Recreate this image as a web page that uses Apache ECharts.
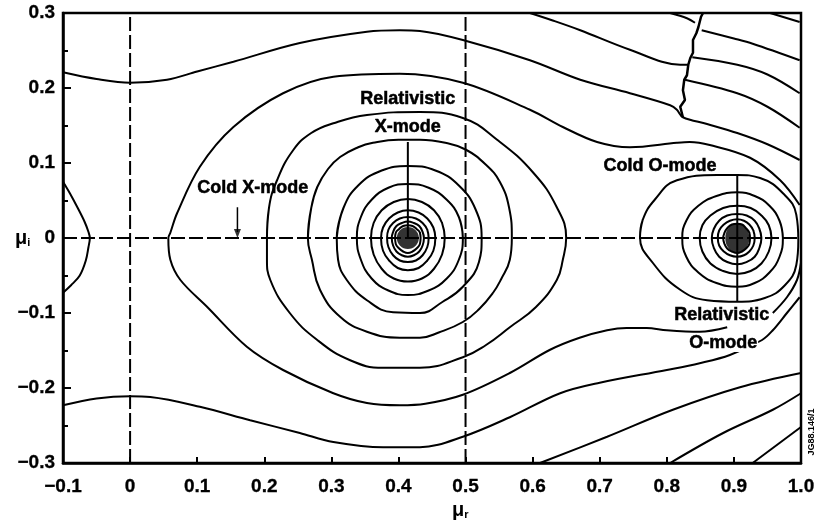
<!DOCTYPE html>
<html>
<head>
<meta charset="utf-8">
<script src="https://cdn.jsdelivr.net/npm/echarts@6/dist/echarts.min.js"></script>
<style>html,body{margin:0;padding:0;background:#fff}#c{width:821px;height:529px}</style>
</head>
<body>
<div id="c"></div>
<script>
// ---- tick labels ----
const xTickLabels = ['\u22120.1','0','0.1','0.2','0.3','0.4','0.5','0.6','0.7','0.8','0.9','1.0'];
const yTickLabels = ['\u22120.3','\u22120.2','\u22120.1','0','0.1','0.2','0.3'];

// ---- dashed reference lines ----
const refX = [0, 0.5];
const refY = [0];

// ---- closed contours around the relativistic X-mode (mu_r ~ 0.414) ----
const xRings = [
  [[.433,0],[.432,.007],[.427,.012],[.421,.016],[.414,.017],[.407,.016],[.401,.012],[.396,.007],[.395,0],[.396,-.008],[.401,-.014],[.407,-.018],[.414,-.020],[.421,-.018],[.427,-.014],[.432,-.008],[.433,0],[.432,.007]],
  [[.438,0],[.436,.008],[.431,.016],[.423,.020],[.414,.022],[.405,.020],[.397,.016],[.392,.008],[.390,0],[.392,-.010],[.397,-.018],[.405,-.023],[.414,-.025],[.423,-.023],[.431,-.018],[.436,-.010],[.438,0],[.436,.008]],
  [[.445,0],[.443,.011],[.436,.020],[.426,.026],[.414,.028],[.402,.026],[.392,.020],[.385,.011],[.383,0],[.385,-.012],[.392,-.023],[.402,-.030],[.414,-.032],[.426,-.030],[.436,-.023],[.443,-.012],[.445,0],[.443,.011]],
  [[.455,0],[.452,.014],[.443,.026],[.430,.034],[.414,.037],[.399,.034],[.386,.026],[.377,.014],[.374,0],[.377,-.017],[.386,-.030],[.399,-.040],[.414,-.043],[.430,-.040],[.443,-.030],[.452,-.017],[.455,0],[.452,.014]],
  [[.469,0],[.465,.020],[.453,.037],[.435,.048],[.414,.052],[.393,.048],[.375,.037],[.363,.020],[.359,0],[.363,-.022],[.375,-.041],[.393,-.054],[.414,-.058],[.435,-.054],[.453,-.041],[.465,-.022],[.469,0],[.465,.020]],
  [[.496,0],[.490,.028],[.472,.051],[.445,.067],[.414,.072],[.385,.067],[.360,.051],[.344,.028],[.338,0],[.344,-.029],[.360,-.054],[.385,-.070],[.414,-.076],[.445,-.070],[.472,-.054],[.490,-.029],[.496,0],[.490,.028]],
  [[.308,0],[.318,.040],[.340,.070],[.375,.090],[.414,.096],[.455,.090],[.490,.070],[.515,.038],[.524,0],[.520,-.032],[.496,-.065],[.466,-.085],[.432,-.100],[.392,-.099],[.353,-.083],[.323,-.056],[.310,-.029],[.308,0],[.318,.040]],
  [[.265,0],[.270,.040],[.279,.068],[.295,.092],[.313,.108],[.340,.121],[.362,.127],[.400,.131],[.432,.131],[.470,.127],[.500,.118],[.530,.098],[.551,.075],[.565,.040],[.569,0],[.566,-.029],[.553,-.055],[.541,-.073],[.520,-.095],[.496,-.112],[.460,-.126],[.432,-.133],[.402,-.133],[.353,-.125],[.313,-.105],[.283,-.069],[.271,-.029],[.265,0],[.270,.040]],
  [[.204,0],[.207,.040],[.219,.077],[.243,.117],[.270,.140],[.303,.153],[.353,.164],[.432,.168],[.496,.160],[.547,.131],[.601,.087],[.636,.041],[.650,0],[.645,-.029],[.636,-.056],[.605,-.092],[.566,-.119],[.530,-.143],[.496,-.159],[.432,-.173],[.377,-.173],[.328,-.163],[.279,-.136],[.238,-.100],[.209,-.056],[.204,-.029],[.204,0],[.207,.040]]
];

// ---- closed contours around the relativistic O-mode (mu_r ~ 0.905) ----
const oRings = [
  [[.924,0],[.923,.007],[.918,.013],[.912,.018],[.905,.019],[.897,.018],[.890,.013],[.886,.007],[.884,0],[.886,-.008],[.890,-.014],[.897,-.018],[.905,-.020],[.912,-.018],[.918,-.014],[.923,-.008],[.924,0],[.923,.007]],
  [[.931,0],[.929,.010],[.923,.018],[.915,.023],[.905,.025],[.894,.023],[.885,.018],[.878,.010],[.876,0],[.878,-.010],[.885,-.018],[.894,-.023],[.905,-.025],[.915,-.023],[.923,-.018],[.929,-.010],[.931,0],[.929,.010]],
  [[.941,0],[.938,.012],[.931,.023],[.919,.030],[.905,.032],[.890,.030],[.878,.023],[.870,.012],[.867,0],[.870,-.013],[.878,-.025],[.890,-.032],[.905,-.035],[.919,-.032],[.931,-.025],[.938,-.013],[.941,0],[.938,.012]],
  [[.956,0],[.952,.017],[.941,.030],[.925,.040],[.905,.043],[.884,.040],[.865,.030],[.853,.017],[.849,0],[.853,-.018],[.865,-.034],[.884,-.044],[.905,-.048],[.925,-.044],[.941,-.034],[.952,-.018],[.956,0],[.952,.017]],
  [[.973,0],[.968,.023],[.953,.043],[.931,.056],[.905,.061],[.874,.056],[.847,.043],[.829,.023],[.823,0],[.829,-.025],[.847,-.046],[.874,-.060],[.905,-.065],[.931,-.060],[.953,-.046],[.968,-.025],[.973,0],[.968,.023]],
  [[.760,.001],[.764,.024],[.782,.051],[.815,.077],[.875,.084],[.905,.084],[.939,.080],[.976,.057],[.993,.031],[.996,-.003],[.993,-.036],[.976,-.063],[.946,-.080],[.905,-.085],[.860,-.083],[.820,-.069],[.779,-.033],[.760,.001],[.764,.024]]
];

// ---- open contours ----
const leftArc = [[-.100,.075],[-.090,.060],[-.078,.040],[-.068,.022],[-.062,.008],[-.060,0],[-.062,-.012],[-.066,-.030],[-.075,-.050],[-.088,-.063],[-.100,-.073]];
const coldXLens = [[.890,-.119],[.849,-.125],[.800,-.123],[.770,-.120],[.740,-.120],[.711,-.123],[.670,-.133],[.626,-.149],[.566,-.180],[.496,-.209],[.440,-.221],[.402,-.223],[.353,-.220],[.303,-.207],[.228,-.176],[.174,-.145],[.115,-.092],[.075,-.056],[.060,-.029],[.057,0],[.060,.007],[.070,.033],[.104,.095],[.154,.148],[.228,.193],[.303,.215],[.402,.219],[.496,.207],[.596,.171],[.645,.148],[.696,.128],[.745,.121],[.815,.127],[.834,.128],[.864,.124],[.924,.107],[.969,.077],[.998,.044]];
const lensTail = [[.958,-.100],[.979,-.079],[.994,-.056],[1.0,-.033]];
const topContour = [[-.100,.221],[-.050,.212],[0,.207],[.055,.211],[.100,.222],[.154,.235],[.253,.260],[.353,.275],[.402,.277],[.432,.276],[.496,.264],[.596,.237],[.671,.211],[.745,.193],[.805,.177],[.815,.171],[.824,.161],[.860,.152],[.905,.140],[.950,.125],[.998,.104]];
const upperContour = [[.596,.300],[.630,.290],[.671,.277],[.745,.251],[.820,.231],[.832,.231]];
const cornerContour = [[.805,.300],[.830,.293],[.842,.287]];
const branchCut = [[.854,.300],[.851,.295],[.847,.281],[.844,.273],[.839,.264],[.839,.247],[.835,.240],[.832,.231],[.830,.217],[.826,.211],[.824,.197],[.827,.184],[.820,.175],[.824,.161]];
const rightContour1 = [[.852,.277],[.900,.266],[.928,.259],[.998,.237]];
const rightContour2 = [[.838,.241],[.905,.231],[.950,.218],[.998,.193]];
const rightContour3 = [[.827,.211],[.905,.193],[.950,.175],[.998,.147]];
const rightCorner = [[.954,.300],[.998,.288]];
const bottomContour = [[-.100,-.223],[-.050,-.214],[0,-.211],[.030,-.212],[.104,-.225],[.179,-.243],[.253,-.260],[.303,-.272],[.377,-.279],[.432,-.279],[.496,-.265],[.566,-.239],[.641,-.207],[.700,-.193],[.800,-.176],[.849,-.167],[.894,-.156],[.942,-.136],[.958,-.123],[.979,-.100],[.998,-.079]];
const diag1 = [[.611,-.300],[.711,-.265],[.809,-.229],[.909,-.199],[1.0,-.180]];
const diag2 = [[.805,-.300],[.884,-.260],[.958,-.229],[1.0,-.207]];
const diag3 = [[.928,-.300],[1.0,-.252]];

// ---- markers ----
const xCore = [[.414,0]];
const oCore = [[.905,0]];
const xStem = [[.414,.128],[.414,0]];
const oStem = [[.905,.084],[.905,-.085]];
const coldXArrow = [[.160,.041],[.160,.008]];
const coldXArrowHead = [[.160,.006]];

// ---- annotations (text, anchor in data units) ----
const noteText = ['Cold X-mode','Relativistic','X-mode','Cold O-mode','Relativistic','O-mode'];
const noteAnchor = [[.183,.066],[.414,.185],[.414,.148],[.790,.096],[.882,-.103],[.884,-.140]];
const noteBoxed = [false,false,false,false,true,true];

const FONT = '"Liberation Sans", Arial, Helvetica, sans-serif';
const black = '#000';

function curve(points, smooth, width) {
  return {type:'line', data:points, smooth:smooth, symbol:'none', silent:true,
          lineStyle:{color:black, width:width||2}, z:3};
}

const series = [];
xRings.forEach(r => series.push(curve(r, 0.45)));
oRings.forEach(r => series.push(curve(r, 0.45)));
[leftArc, coldXLens, lensTail, topContour, upperContour, cornerContour, rightContour1, rightContour2,
 rightContour3, rightCorner, bottomContour, diag1, diag2, diag3].forEach(c => series.push(curve(c, 0.35)));
series.push(curve(branchCut, false, 2.5));
series.push(curve(xStem, false, 2));
series.push(curve(oStem, false, 2));

refX.forEach(v => series.push({type:'line', data:[[v,-0.3],[v,0.3]], symbol:'none', silent:true,
  lineStyle:{color:black, width:2, type:[14,4]}, z:2}));
refY.forEach(v => series.push({type:'line', data:[[-0.1,v],[1.0,v]], symbol:'none', silent:true,
  lineStyle:{color:black, width:2, type:[14,4]}, z:2}));

series.push(curve(coldXArrow, false, 1.5));
series.push({type:'scatter', data:coldXArrowHead, symbol:'triangle', symbolSize:[7,9], symbolRotate:180,
  itemStyle:{color:black}, silent:true, z:4});

series.push({type:'scatter', data:xCore, symbol:'circle', symbolSize:22, itemStyle:{color:black}, silent:true, z:5});
series.push({type:'scatter', data:oCore, symbol:'circle', symbolSize:[24,30], itemStyle:{color:black}, silent:true, z:5});

const tickFont = {color:black, fontFamily:FONT, fontWeight:'bold', fontSize:19, textBorderColor:black, textBorderWidth:0.3};

const chart = echarts.init(document.getElementById('c'), null, {renderer:'canvas'});
chart.setOption({
  animation:false,
  backgroundColor:'#fff',
  grid:{left:63, right:20, top:13, bottom:66, show:true, borderColor:black, borderWidth:2.5, backgroundColor:'transparent'},
  xAxis:{type:'value', min:-0.1, max:1.0, interval:0.1,
    axisLine:{show:true, onZero:false, lineStyle:{color:black, width:2.5}},
    axisTick:{show:true, inside:true, length:6, lineStyle:{color:black, width:2}},
    splitLine:{show:false},
    axisLabel:Object.assign({margin:14, formatter:v => xTickLabels[Math.round((v + 0.1) / 0.1)]}, tickFont)
  },
  yAxis:{type:'value', min:-0.3, max:0.3, interval:0.1,
    axisLine:{show:true, onZero:false, lineStyle:{color:black, width:2.5}},
    axisTick:{show:true, inside:true, length:8, lineStyle:{color:black, width:2}},
    minorTick:{show:true, splitNumber:2, length:5, lineStyle:{color:black, width:2}},
    splitLine:{show:false},
    axisLabel:Object.assign({margin:8, formatter:v => yTickLabels[Math.round((v + 0.3) / 0.1)]}, tickFont)
  },
  series:series
});

// annotations placed through the chart's own coordinate system
const graphics = noteText.map((t, i) => {
  const p = chart.convertToPixel({gridIndex:0}, noteAnchor[i]);
  return {type:'text', x:p[0], y:p[1], z:100, style:{text:t, fontFamily:FONT, fontWeight:'bold', fontSize:18,
    fill:black, stroke:black, lineWidth:0.5, align:'center', verticalAlign:'middle',
    backgroundColor: noteBoxed[i] ? '#fff' : null, padding: noteBoxed[i] ? [0,1] : 0}};
});
graphics.push(
  {type:'text', left:15, top:228, style:{text:'{a|\u03bc}{b|i}', rich:{
    a:{fontFamily:FONT, fontWeight:'bold', fontSize:20, fill:black},
    b:{fontFamily:FONT, fontWeight:'bold', fontSize:11, fill:black, verticalAlign:'bottom', padding:[8,0,0,0]}}}},
  {type:'text', left:452, top:500, style:{text:'{a|\u03bc}{b|r}', rich:{
    a:{fontFamily:FONT, fontWeight:'bold', fontSize:20, fill:black},
    b:{fontFamily:FONT, fontWeight:'bold', fontSize:11, fill:black, verticalAlign:'bottom', padding:[8,0,0,0]}}}},
  {type:'text', x:812, y:432, rotation:Math.PI/2, style:{text:'JG88.146/1', fontFamily:FONT, fontWeight:'bold',
    fontSize:9, fill:black, align:'center', verticalAlign:'middle'}}
);
chart.setOption({graphic:graphics});
</script>
</body>
</html>
